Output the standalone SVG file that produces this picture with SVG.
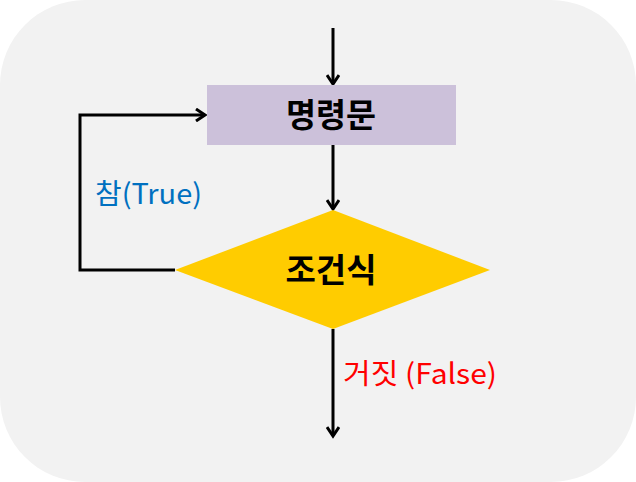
<svg xmlns="http://www.w3.org/2000/svg" width="636" height="482" viewBox="0 0 636 482">
<style>
.ln{fill:none;stroke:#000;stroke-width:3}
.t{font-family:"Noto Sans CJK KR","Noto Sans",sans-serif}
</style>
<defs>
<marker id="ah" markerWidth="14" markerHeight="14" refX="11" refY="7" orient="auto" markerUnits="userSpaceOnUse">
<polyline points="2,1 11,7 2,13" fill="none" stroke="#000" stroke-width="3"/>
</marker>
</defs>
<rect x="0" y="0" width="636" height="482" rx="85" ry="85" fill="#f2f2f2"/>
<g id="connectors">
<line class="ln" x1="333" y1="28" x2="333" y2="84" marker-end="url(#ah)"/>
<line class="ln" x1="333" y1="145" x2="333" y2="209" marker-end="url(#ah)"/>
<polyline class="ln" points="175,270 80,270 80,115 205,115" marker-end="url(#ah)"/>
<line class="ln" x1="333" y1="329" x2="333" y2="436" marker-end="url(#ah)"/>
</g>
<g id="node-statement">
<rect x="207" y="85" width="249" height="60" fill="#ccc1da"/>
<text class="t" x="331" y="127" font-size="33" font-weight="bold" text-anchor="middle" textLength="90" lengthAdjust="spacingAndGlyphs">명령문</text>
</g>
<g id="node-condition">
<polygon points="333,210 490,270 333,329 175,270" fill="#ffcc00"/>
<text class="t" x="331" y="282" font-size="33" font-weight="bold" text-anchor="middle" textLength="91" lengthAdjust="spacingAndGlyphs">조건식</text>
</g>
<g id="labels">
<text class="t" x="95" y="204" font-size="28" fill="#0070c0" textLength="107" lengthAdjust="spacingAndGlyphs">참(True)</text>
<text class="t" x="343" y="384" font-size="28" fill="#ff0000" textLength="154" lengthAdjust="spacingAndGlyphs">거짓 (False)</text>
</g>
</svg>
